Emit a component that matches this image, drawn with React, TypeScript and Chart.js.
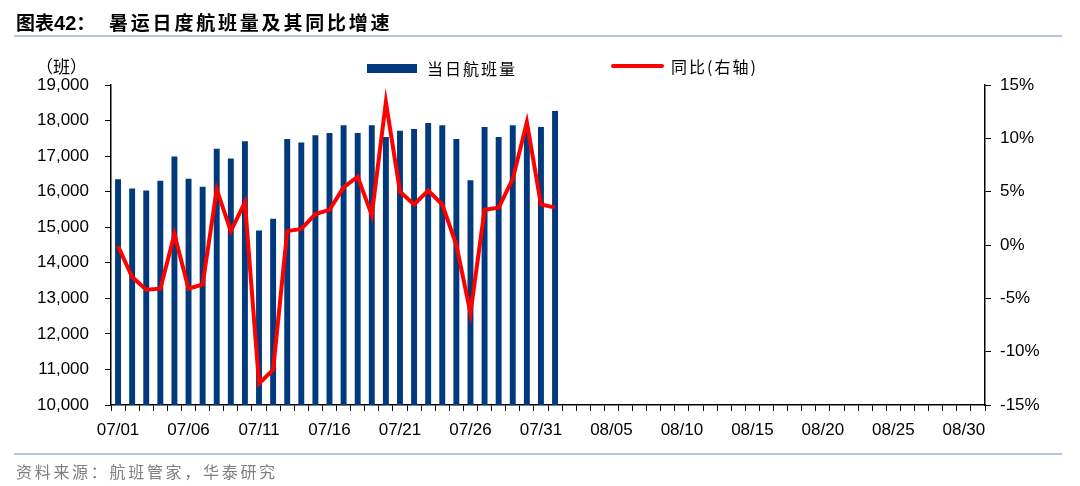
import React, { useEffect, useRef } from "react";
import { Chart, registerables } from "chart.js";

Chart.register(...registerables);

const categories: string[] = [
  "07/01","07/02","07/03","07/04","07/05","07/06","07/07","07/08","07/09","07/10",
  "07/11","07/12","07/13","07/14","07/15","07/16","07/17","07/18","07/19","07/20",
  "07/21","07/22","07/23","07/24","07/25","07/26","07/27","07/28","07/29","07/30",
  "07/31","08/01","08/02","08/03","08/04","08/05","08/06","08/07","08/08","08/09",
  "08/10","08/11","08/12","08/13","08/14","08/15","08/16","08/17","08/18","08/19",
  "08/20","08/21","08/22","08/23","08/24","08/25","08/26","08/27","08/28","08/29",
  "08/30","08/31",
];

const tickLabels: string[] = [
  "07/01","07/06","07/11","07/16","07/21","07/26","07/31",
  "08/05","08/10","08/15","08/20","08/25","08/30",
];

const flights: number[] = [
  16350, 16090, 16030, 16310, 16990, 16360, 16140, 17210, 16930, 17420,
  14910, 15240, 17480, 17380, 17590, 17650, 17870, 17650, 17870, 17540,
  17710, 17760, 17930, 17870, 17480, 16320, 17820, 17540, 17870, 17800,
  17820, 18270,
];

const yoy: number[] = [
  -0.1, -3.0, -4.2, -4.1, 1.0, -4.1, -3.7, 5.2, 1.3, 4.0,
  -13.0, -11.7, 1.3, 1.5, 2.9, 3.3, 5.4, 6.4, 2.8, 13.4,
  5.0, 3.8, 5.1, 3.8, 0.0, -6.4, 3.3, 3.5, 6.2, 11.5,
  3.8, 3.5,
];

const BAR_LABEL = "当日航班量";
const LINE_LABEL = "同比(右轴)";
const NAVY = "#003a7c";
const RED = "#ff0000";
const CJK = "'Noto Sans CJK SC', 'Liberation Sans', sans-serif";
const LATIN = "'Liberation Sans', Arial, sans-serif";

export default function App() {
  const ref = useRef<HTMLCanvasElement | null>(null);

  useEffect(() => {
    if (!ref.current) return;
    const tickFont = { family: LATIN, size: 17 };
    const chart = new Chart(ref.current, {
      type: "bar",
      data: {
        labels: categories,
        datasets: [
          {
            type: "line",
            label: LINE_LABEL,
            data: yoy,
            yAxisID: "y1",
            borderColor: RED,
            backgroundColor: RED,
            borderWidth: 4,
            pointRadius: 0,
            tension: 0,
            order: 1,
          },
          {
            type: "bar",
            label: BAR_LABEL,
            data: flights,
            yAxisID: "y",
            backgroundColor: NAVY,
            categoryPercentage: 1,
            barPercentage: 0.42,
            order: 2,
          },
        ],
      },
      options: {
        responsive: false,
        animation: false,
        devicePixelRatio: 1,
        layout: { padding: { top: 85, left: 0, right: 0, bottom: 0 } },
        plugins: {
          legend: { display: false },
          title: { display: false },
          tooltip: { enabled: false },
        },
        scales: {
          x: {
            offset: true,
            grid: {
              offset: true,
              drawOnChartArea: false,
              drawTicks: true,
              tickLength: 6,
              color: "#000",
              lineWidth: 1,
            },
            border: { display: true, color: "#000", width: 1.5 },
            ticks: {
              autoSkip: false,
              maxRotation: 0,
              minRotation: 0,
              padding: 9,
              color: "#000",
              font: tickFont,
              callback: (_v: any, i: number) =>
                tickLabels.includes(categories[i]) ? categories[i] : "",
            },
            afterFit: (s: any) => {
              s.height = 81;
            },
          },
          y: {
            position: "left",
            min: 10000,
            max: 19000,
            grid: {
              drawOnChartArea: false,
              drawTicks: true,
              tickLength: 6,
              color: "#000",
              lineWidth: 1,
            },
            border: { display: true, color: "#000", width: 1.5 },
            ticks: {
              stepSize: 1000,
              padding: 16,
              color: "#000",
              font: tickFont,
              callback: (v: any) => Number(v).toLocaleString("en-US"),
            },
            afterFit: (s: any) => {
              s.width = 111;
            },
          },
          y1: {
            position: "right",
            min: -15,
            max: 15,
            grid: {
              drawOnChartArea: false,
              drawTicks: true,
              tickLength: 6,
              color: "#000",
              lineWidth: 1,
            },
            border: { display: true, color: "#000", width: 1.5 },
            ticks: {
              stepSize: 5,
              padding: 9,
              color: "#000",
              font: tickFont,
              callback: (v: any) => `${v}%`,
            },
            afterFit: (s: any) => {
              s.width = 95;
            },
          },
        },
      },
    } as any);
    return () => chart.destroy();
  }, []);

  const abs = (o: React.CSSProperties): React.CSSProperties => ({
    position: "absolute",
    margin: 0,
    whiteSpace: "nowrap",
    ...o,
  });

  return (
    <div style={{ position: "absolute", left: 0, top: 0, width: 1080, height: 486, background: "#fff", overflow: "hidden" }}>
      <canvas ref={ref} width={1080} height={486} style={{ position: "absolute", left: 0, top: 0, width: 1080, height: 486 }} />
      {/* Title */}
      <div style={abs({ left: 16, top: 8, fontSize: 19, fontWeight: 700, fontFamily: CJK, lineHeight: "28px", color: "#000" })}>
        图表<span style={{ fontFamily: LATIN, fontSize: 20 }}>42</span>：
      </div>
      <div style={abs({ left: 109, top: 8, fontSize: 19, fontWeight: 700, fontFamily: CJK, lineHeight: "28px", letterSpacing: 2.8, color: "#000" })}>
        暑运日度航班量及其同比增速
      </div>
      <div style={abs({ left: 14, top: 35, width: 1048, height: 2, background: "#b3c6df" })} />
      {/* unit */}
      <div style={abs({ left: 36, top: 55, fontSize: 17, fontFamily: CJK, lineHeight: "22px", color: "#000" })}>（班）</div>
      {/* legend */}
      <div style={abs({ left: 367, top: 64, width: 50, height: 9, background: NAVY })} />
      <div style={abs({ left: 427, top: 57, fontSize: 16, fontFamily: CJK, lineHeight: "22px", letterSpacing: 2, color: "#000" })}>
        {BAR_LABEL}
      </div>
      <div style={abs({ left: 611, top: 64, width: 53, height: 4, borderRadius: 2, background: RED })} />
      <div style={abs({ left: 671, top: 55, fontSize: 16, fontFamily: CJK, lineHeight: "22px", letterSpacing: 2, color: "#000" })}>
        {LINE_LABEL}
      </div>
      {/* source */}
      <div style={abs({ left: 14, top: 453, width: 1048, height: 2, background: "#b3c6df" })} />
      <div style={abs({ left: 16, top: 460, fontSize: 16, fontFamily: CJK, lineHeight: "22px", letterSpacing: 2.7, color: "#7f7f7f" })}>
        资料来源：航班管家，华泰研究
      </div>
    </div>
  );
}
